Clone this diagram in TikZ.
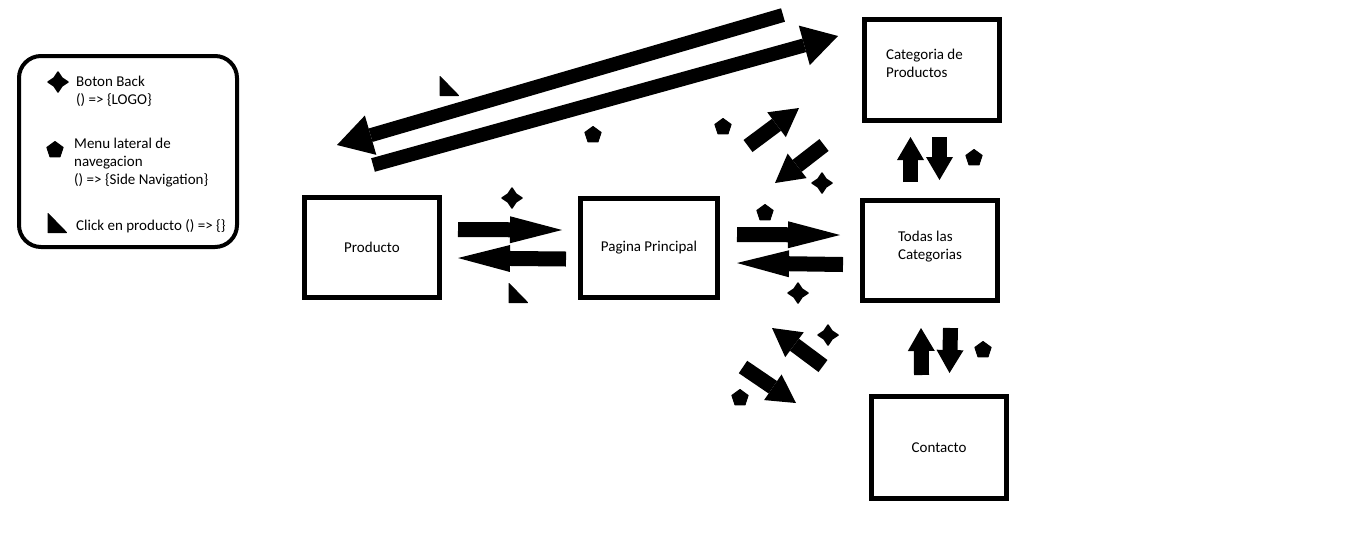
\documentclass[tikz,border=0pt]{standalone}
\usepackage{fontspec}
\setmainfont{Carlito}
\usetikzlibrary{arrows.meta}
\colorlet{linkblack}{black}

\begin{document}
\begin{tikzpicture}[x=1pt,y=-1pt,
    every node/.style={font=\fontsize{15}{18}\selectfont, inner sep=0pt},
    pagebox/.style={draw=linkblack, line width=5pt, minimum width=135pt, minimum height=100pt, align=flush left},
    longtip/.style={linkblack, line width=15pt, -{Triangle[length=52pt,width=27pt,line width=0pt]}},
    shorttip/.style={linkblack, line width=15pt, -{Triangle[length=23pt,width=27pt,line width=0pt]}},
    diagtip/.style={linkblack, line width=15pt, -{Triangle[length=28pt,width=31pt,line width=0pt]}},
    bigtip/.style={linkblack, line width=14pt, -{Triangle[length=35pt,width=41pt,line width=0pt]}},
    backstar/.pic={\filldraw[line width=1.5pt, line join=round] (-10,0) -- (-4,-4) -- (0,-10) -- (4,-4) -- (10,0) -- (4,4) -- (0,10) -- (-4,4) -- cycle;},
    menupent/.pic={\filldraw[line width=1pt, line join=round] (0,-8.5) -- (8.1,-2.6) -- (5,6.9) -- (-5,6.9) -- (-8.1,-2.6) -- cycle;},
    clicktri/.pic={\filldraw[line width=1pt, line join=round] (-9,-9.5) -- (9.5,9.5) -- (-9,9.5) -- cycle;}]
        \path[fill=white, use as bounding box] (0,0) rectangle (1348,547);
        % legend
        \node[draw=linkblack, line width=4pt, rounded corners=22pt, minimum width=218pt, minimum height=191pt] (legend) at (128,151.5) {};
        \node[anchor=west, align=flush left] (backtext) at (76,91) {Boton Back\\() => \{LOGO\}};
        \node[anchor=west, align=flush left] (menutext) at (74,163) {Menu lateral de\\navegacion\\() => \{Side Navigation\}};
        \node[anchor=west] (clicktext) at (76,226) {Click en producto () => \{\}};
        % pages
        \node[pagebox] (prod) at (372,247.5) {Producto};
        \node[pagebox, minimum width=137pt, minimum height=99pt] (pag) at (649,248) {Pagina Principal};
        \node[pagebox, minimum height=101pt, text width=92pt, text depth=32pt] (cat) at (932,70) {Categoria de\\Productos};
        \node[pagebox, text width=64pt, text depth=28pt] (todas) at (930,250.5) {Todas las\\Categorias};
        \node[pagebox, minimum height=102pt] (cont) at (939,447.5) {Contacto};
        % long arrows
        \draw[bigtip] ([shift={(-79,-2)}]cat.north west) -- ([shift={(35,-50)}]prod.north west);
        \draw[bigtip] ([shift={(71,-30)}]prod.north west) -- ([shift={(-24,-34)}]cat.west);
        % horizontal
        \draw[longtip] ([shift={(16,-18)}]prod.east) -- ([shift={(-16,-18)}]pag.west);
        \draw[longtip] ([shift={(-12,11)}]pag.west) -- ([shift={(16,10.5)}]prod.east);
        \draw[longtip] ([shift={(17,-13.5)}]pag.east) -- ([shift={(-20,-15.5)}]todas.west);
        \draw[longtip] ([shift={(-17,14)}]todas.west) -- ([shift={(17,15)}]pag.east);
        % vertical
        \draw[shorttip] ([shift={(-19.5,-16)}]todas.north) -- ([shift={(-21.5,14)}]cat.south);
        \draw[shorttip] ([shift={(7.5,14)}]cat.south) -- ([shift={(9.5,-18)}]todas.north);
        \draw[shorttip] ([shift={(-17.5,-19)}]cont.north) -- ([shift={(-9,25)}]todas.south);
        \draw[shorttip] ([shift={(20.5,25)}]todas.south) -- ([shift={(10.5,-21)}]cont.north);
        % diagonal
        \draw[diagtip] ([shift={(28,-50)}]pag.north east) -- ([shift={(-63,-15)}]cat.south west);
        \draw[diagtip] ([shift={(-38,22)}]cat.south west) -- ([shift={(55,-13)}]pag.north east);
        \draw[diagtip] ([shift={(-46,-28)}]cont.north west) -- ([shift={(52,28)}]pag.south east);
        \draw[diagtip] ([shift={(23,67)}]pag.south east) -- ([shift={(-73,9)}]cont.north west);
        % markers
        \foreach \x/\y in {58/82,512/198,822/183,798/293,828/335}{
            \pic at (\x,\y) {backstar};
        }
        \foreach \x/\y in {55/150,593/135,723/127,765/213,974/158,983/350,740/398}{
            \pic at (\x,\y) {menupent};
        }
        \foreach \x/\y in {57/223,449/86,518/293}{
            \pic at (\x,\y) {clicktri};
        }
\end{tikzpicture}
\end{document}
